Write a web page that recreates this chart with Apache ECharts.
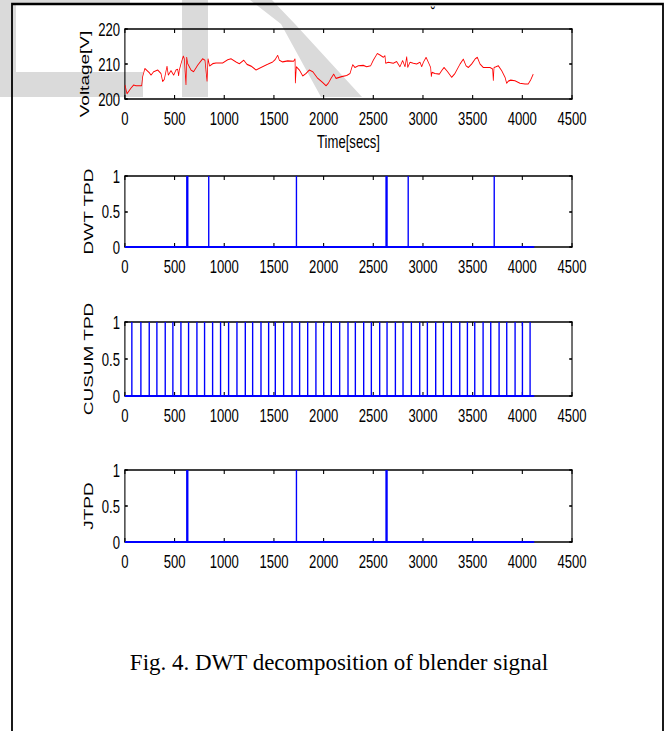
<!DOCTYPE html>
<html>
<head>
<meta charset="utf-8">
<script src="https://cdn.jsdelivr.net/npm/echarts@6/dist/echarts.min.js"></script>
<style>
html,body{margin:0;padding:0;background:#fff;overflow:hidden;}
/* the figure is horizontally squeezed, so draw wide and squash */
#main{width:973px;height:731px;transform:scaleX(0.69);transform-origin:0 0;}
</style>
</head>
<body>
<div id="main"></div>
<script>
var SQ = 0.69;
function px(x){ return x / SQ; }   // page px -> chart px (before squeeze)

// ---- data ----
var timeTicks = [0, 500, 1000, 1500, 2000, 2500, 3000, 3500, 4000, 4500];
var voltTicks = [200, 210, 220];
var tpdTicks = [0, 0.5, 1];

var voltTime = [0, 20, 60, 87, 110, 168, 178, 200, 245, 262, 289, 329, 362, 379, 396, 423, 436, 463, 490, 513,
  530, 540, 547, 564, 587, 597, 614, 621, 631, 664, 691, 732, 782, 805, 826, 836, 852, 883, 916, 983,
  1034, 1067, 1118, 1151, 1195, 1228, 1269, 1319, 1369, 1436, 1487, 1510, 1537, 1554, 1587, 1638, 1698, 1712, 1715, 1725,
  1755, 1789, 1822, 1856, 1890, 1940, 1990, 2024, 2047, 2074, 2101, 2124, 2181, 2232, 2265, 2292, 2315, 2349, 2399, 2433,
  2473, 2500, 2540, 2567, 2600, 2617, 2624, 2651, 2701, 2735, 2768, 2795, 2819, 2836, 2846, 2869, 2903, 2936, 2970, 2987,
  3004, 3031, 3054, 3077, 3084, 3091, 3121, 3165, 3188, 3212, 3245, 3289, 3322, 3373, 3406, 3433, 3456, 3490, 3524, 3547,
  3574, 3607, 3641, 3675, 3701, 3708, 3715, 3735, 3758, 3792, 3826, 3842, 3859, 3883, 3926, 3976, 4027, 4060, 4083, 4110];
var voltValue = [204.0, 201.5, 203.1, 204.0, 203.8, 203.8, 206.4, 208.7, 207.5, 206.8, 207.8, 208.3, 207.3, 205.0, 205.6, 209.4, 206.8, 208.1, 206.8, 208.3,
  208.5, 206.6, 208.3, 210.1, 212.3, 211.5, 204.0, 212.0, 210.1, 208.3, 207.8, 209.7, 211.5, 211.1, 205.0, 211.5, 209.4, 210.1, 210.3, 210.3,
  211.2, 211.5, 210.6, 210.1, 211.1, 209.9, 209.4, 208.3, 209.0, 209.9, 210.6, 211.2, 212.5, 211.1, 210.6, 210.9, 210.8, 211.5, 204.5, 209.2,
  208.3, 206.6, 207.3, 208.3, 207.8, 205.9, 204.7, 203.8, 204.5, 205.9, 207.1, 205.9, 206.4, 206.7, 207.3, 209.8, 209.0, 209.5, 209.6, 209.2,
  209.5, 211.1, 213.0, 212.6, 211.9, 212.4, 210.2, 210.5, 210.2, 210.7, 209.2, 211.0, 209.2, 212.1, 209.0, 210.5, 210.2, 210.0, 210.5, 209.2,
  210.5, 211.9, 210.5, 209.0, 206.4, 207.6, 207.3, 207.1, 208.1, 209.0, 207.9, 206.2, 207.3, 210.0, 211.4, 209.5, 209.0, 210.0, 211.4, 211.9,
  210.0, 209.0, 209.0, 209.0, 208.6, 205.2, 209.0, 209.2, 209.5, 208.1, 206.2, 204.5, 205.1, 205.4, 205.2, 204.5, 204.3, 204.3, 205.4, 207.1];

var dwtEvents = [622, 632, 843, 1726, 2628, 2638, 2851, 3717];
var cusumEvents = [69, 160, 244, 321, 405, 482, 563, 640, 724, 801, 882, 962, 1043, 1127, 1211, 1285, 1369, 1446,
  1513, 1597, 1681, 1758, 1839, 1922, 2000, 2077, 2161, 2245, 2319, 2403, 2480, 2564, 2638, 2722, 2799, 2883,
  2967, 3044, 3128, 3205, 3286, 3370, 3447, 3521, 3605, 3682, 3766, 3843, 3927, 4001, 4078];
var jtpdEvents = [622, 632, 1726, 2628, 2638];
var signalEnd = 4120;

// ---- helpers ----
var FONT = '"Liberation Sans", Arial, sans-serif';

function pulses(events, end){
  var d = [[0, 0]];
  events.forEach(function(t){ d.push([t, 0], [t, 1], [t, 0]); });
  d.push([end, 0]);
  return d;
}

var grids = [
  {left: px(125), top: 29, width: px(447), height: 70},
  {left: px(125), top: 176, width: px(447), height: 71},
  {left: px(125), top: 322, width: px(447), height: 74},
  {left: px(125), top: 470, width: px(447), height: 72}
];

var lineBlack = {onZero: false, lineStyle: {color: '#000', width: 1.6}};
var tickIn = {inside: true, length: 4, lineStyle: {color: '#000', width: 1.6}};
var labelStyle = {color: '#000', fontFamily: FONT, fontSize: 19};
function plain(v){ return String(v); }

var xAxes = [], yAxes = [];
var yNames = ['Voltage[V]', 'DWT TPD', 'CUSUM TPD', 'JTPD'];
grids.forEach(function(g, i){
  var xb = {
    type: 'value', gridIndex: i,
    min: timeTicks[0], max: timeTicks[timeTicks.length - 1], interval: timeTicks[1] - timeTicks[0],
    splitLine: {show: false}, axisLine: lineBlack, axisTick: tickIn
  };
  xAxes.push(Object.assign({}, xb, {
    position: 'bottom',
    axisLabel: Object.assign({margin: 10, formatter: plain}, labelStyle),
    name: i === 0 ? 'Time[secs]' : '', nameLocation: 'middle', nameGap: 33,
    nameTextStyle: labelStyle
  }));
  xAxes.push(Object.assign({}, xb, {position: 'top', axisLabel: {show: false}}));

  var ticks = i === 0 ? voltTicks : tpdTicks;
  var yb = {
    type: 'value', gridIndex: i,
    min: ticks[0], max: ticks[ticks.length - 1], interval: ticks[1] - ticks[0],
    splitLine: {show: false}, axisLine: lineBlack, axisTick: tickIn
  };
  yAxes.push(Object.assign({}, yb, {
    position: 'left',
    axisLabel: Object.assign({margin: px(5), formatter: plain}, labelStyle),
    name: yNames[i], nameLocation: 'middle', nameGap: i === 0 ? px(33) : px(30),
    nameTextStyle: Object.assign({padding: i === 0 ? [0, 20, 0, 0] : [0, 0, 0, 0]}, labelStyle)
  }));
  yAxes.push(Object.assign({}, yb, {position: 'right', axisLabel: {show: false}}));
});

function pulseSeries(i, events){
  return {
    type: 'line', xAxisIndex: 2 * i, yAxisIndex: 2 * i,
    data: pulses(events, signalEnd), showSymbol: false, symbol: 'none',
    lineStyle: {color: '#0000ff', width: 2}, itemStyle: {color: '#0000ff'}
  };
}

var gray = '#dadada';
var graphics = [
  // watermark
  {type: 'rect', z: -5, shape: {x: 0, y: 0, width: px(16), height: 97}, style: {fill: gray}},
  {type: 'rect', z: -5, shape: {x: 0, y: 72, width: px(143), height: 25}, style: {fill: gray}},
  {type: 'rect', z: -5, shape: {x: 0, y: 0, width: px(130), height: 4}, style: {fill: gray}},
  {type: 'rect', z: -5, shape: {x: px(182), y: 0, width: px(26), height: 97}, style: {fill: gray}},
  {type: 'polygon', z: -5, shape: {points: [[px(250), 0], [px(272), 0], [px(295), 24], [px(362), 97], [px(321), 97], [px(281), 24]]}, style: {fill: gray}},
  // page frame
  {type: 'rect', z: 10, shape: {x: px(12), y: 4, width: px(651), height: 800}, style: {fill: 'none', stroke: '#000', lineWidth: 2.6}},
  {type: 'text', z: 10, x: px(433), y: 14, style: {text: '˘', font: '18px ' + FONT, fill: '#000', textAlign: 'center', textVerticalAlign: 'middle'}},
  {type: 'text', z: 10, x: px(339), y: 662, scaleX: 1 / SQ,
   style: {text: 'Fig. 4. DWT decomposition of blender signal', font: '23px "Liberation Serif", "Times New Roman", serif', fill: '#000', textAlign: 'center', textVerticalAlign: 'middle'}}
];

var chart = echarts.init(document.getElementById('main'), null, {renderer: 'svg'});
chart.setOption({
  animation: false,
  backgroundColor: 'transparent',
  grid: grids,
  xAxis: xAxes,
  yAxis: yAxes,
  graphic: graphics,
  series: [
    {
      type: 'line', xAxisIndex: 0, yAxisIndex: 0,
      data: voltTime.map(function(t, k){ return [t, voltValue[k]]; }),
      showSymbol: false, symbol: 'none',
      lineStyle: {color: '#ff0000', width: 1.1}, itemStyle: {color: '#ff0000'}
    },
    pulseSeries(1, dwtEvents),
    pulseSeries(2, cusumEvents),
    pulseSeries(3, jtpdEvents)
  ]
});
</script>
</body>
</html>
